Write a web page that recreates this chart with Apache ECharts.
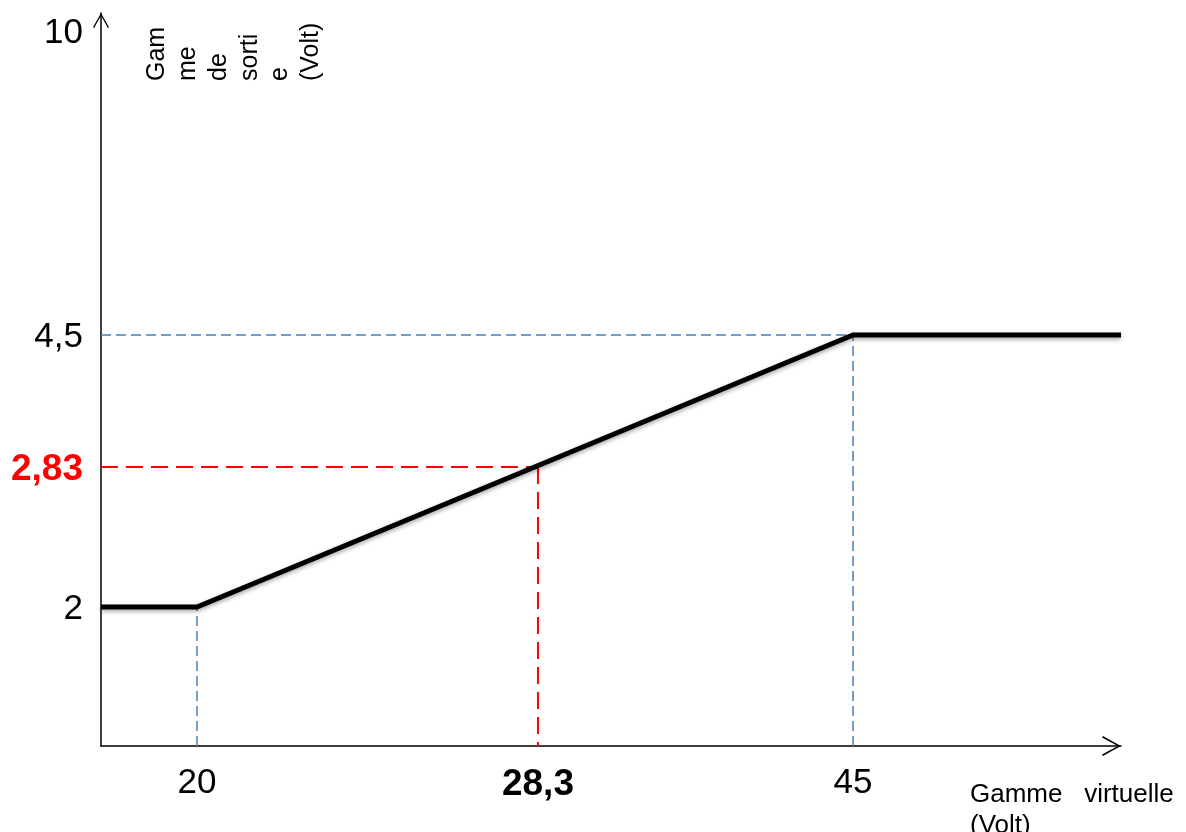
<!DOCTYPE html>
<html>
<head>
<meta charset="utf-8">
<script src="https://cdn.jsdelivr.net/npm/echarts@6/dist/echarts.min.js"></script>
<style>
  html, body { margin: 0; padding: 0; background: #ffffff; }
  #chart { width: 1186px; height: 832px; }
</style>
</head>
<body>
<div id="chart"></div>
<script>
// ---- data ----
const xTickValues = [20, 28.3, 45];
const xTickLabels = ['20', '28,3', '45'];
const yTickValues = [2, 2.83, 4.5, 10];
const yTickLabels = ['2', '2,83', '4,5', '10'];
const curveX = [0, 20, 45, 60];
const curveY = [2, 2, 4.5, 4.5];
const readX = 28.3;
const readY = 2.83;
const xAxisTitle = 'Gamme   virtuelle\n(Volt)';
const yAxisTitle = 'Gam\nme\nde\nsorti\ne\n(Volt)';

// ---- schematic (not-to-scale) axis scales: real value -> share of axis length ----
const X_KNOTS = [[0, 0], [20, 0.0941], [28.3, 0.4284], [45, 0.7373], [60, 1]];
const Y_KNOTS = [[0, 0], [2, 0.1896], [2.83, 0.3806], [4.5, 0.5607], [10, 0.976], [10.2, 1]];
function warp(knots, v) {
  for (let i = 1; i < knots.length; i++) {
    const a = knots[i - 1], b = knots[i];
    if (v <= b[0] || i === knots.length - 1) {
      return a[1] + (v - a[0]) * (b[1] - a[1]) / (b[0] - a[0]);
    }
  }
}
const wx = v => warp(X_KNOTS, v);
const wy = v => warp(Y_KNOTS, v);
function nearestIndex(arr, v) {
  let best = 0;
  for (let i = 1; i < arr.length; i++) if (Math.abs(arr[i] - v) < Math.abs(arr[best] - v)) best = i;
  return best;
}
const xTickPos = xTickValues.map(wx);
const yTickPos = yTickValues.map(wy);

const FONT = "'Liberation Sans', Arial, Helvetica, sans-serif";
const chevron = 'path://M50,0 L100,90 L93,94 L50,16 L7,94 L0,90 Z';
const blue = '#4A7EBB';

const chart = echarts.init(document.getElementById('chart'), null, { renderer: 'canvas' });
chart.setOption({
  animation: false,
  backgroundColor: '#ffffff',
  grid: { left: 101, right: 65, top: 13, bottom: 86, outerBoundsMode: 'none' },
  xAxis: {
    type: 'value', min: 0, max: 1,
    axisLine: { show: true, onZero: false, lineStyle: { color: '#000', width: 1.5 },
      symbol: ['none', chevron], symbolSize: [20, 19], symbolOffset: [0, -9.5] },
    axisTick: { show: false },
    splitLine: { show: false },
    axisLabel: {
      customValues: xTickPos,
      margin: 20,
      fontFamily: FONT, fontSize: 35, color: '#000',
      formatter: v => {
        const i = nearestIndex(xTickPos, v);
        return xTickValues[i] === readX ? '{b|' + xTickLabels[i] + '}' : xTickLabels[i];
      },
      rich: { b: { fontFamily: FONT, fontSize: 37, fontWeight: 'bold', color: '#000' } }
    }
  },
  yAxis: {
    type: 'value', min: 0, max: 1,
    axisLine: { show: true, onZero: false, lineStyle: { color: '#000', width: 1.5 },
      symbol: ['none', chevron], symbolSize: [16, 15], symbolOffset: [0, -7.5] },
    axisTick: { show: false },
    splitLine: { show: false },
    axisLabel: {
      customValues: yTickPos,
      margin: 18,
      padding: [5, 0, 0, 0],
      fontFamily: FONT, fontSize: 35, color: '#000',
      formatter: v => {
        const i = nearestIndex(yTickPos, v);
        return yTickValues[i] === readY ? '{r|' + yTickLabels[i] + '}' : yTickLabels[i];
      },
      rich: { r: { fontFamily: FONT, fontSize: 37, fontWeight: 'bold', color: '#FF0000' } }
    }
  },
  series: [
    // blue guides
    { type: 'line', silent: true, symbol: 'none', z: 2,
      lineStyle: { color: blue, width: 1.5, type: [10, 5] },
      data: [[wx(xTickValues[0]), wy(0)], [wx(xTickValues[0]), wy(curveY[1])]] },
    { type: 'line', silent: true, symbol: 'none', z: 2,
      lineStyle: { color: blue, width: 1.5, type: [10, 5] },
      data: [[wx(xTickValues[2]), wy(0)], [wx(xTickValues[2]), wy(curveY[2])]] },
    { type: 'line', silent: true, symbol: 'none', z: 2,
      lineStyle: { color: blue, width: 1.5, type: [10, 5] },
      data: [[wx(0), wy(curveY[2])], [wx(xTickValues[2]), wy(curveY[2])]] },
    // red reading guides
    { type: 'line', silent: true, symbol: 'none', z: 3,
      lineStyle: { color: '#FF0000', width: 2, type: [17, 8] },
      data: [[wx(0), wy(readY)], [wx(readX), wy(readY)]] },
    { type: 'line', silent: true, symbol: 'none', z: 3,
      lineStyle: { color: '#FF0000', width: 2, type: [17, 8] },
      data: [[wx(readX), wy(readY)], [wx(readX), wy(0)]] },
    // transfer curve
    { type: 'line', silent: true, symbol: 'none', z: 5, clip: false,
      lineStyle: { color: '#000', width: 5, cap: 'butt', join: 'miter',
        shadowColor: 'rgba(0,0,0,0.35)', shadowBlur: 4, shadowOffsetY: 2 },
      data: curveX.map((x, i) => [wx(x), wy(curveY[i])]) }
  ],
  graphic: [
    { type: 'text', x: 142, y: 81, rotation: Math.PI / 2, silent: true,
      style: { text: yAxisTitle, fontFamily: FONT, fontSize: 25, lineHeight: 30.8,
        fill: '#000', align: 'left', verticalAlign: 'top' } },
    { type: 'text', x: 970, y: 779, silent: true,
      style: { text: xAxisTitle, fontFamily: FONT, fontSize: 26, lineHeight: 31,
        fill: '#000', align: 'left', verticalAlign: 'top' } }
  ]
});
</script>
</body>
</html>
